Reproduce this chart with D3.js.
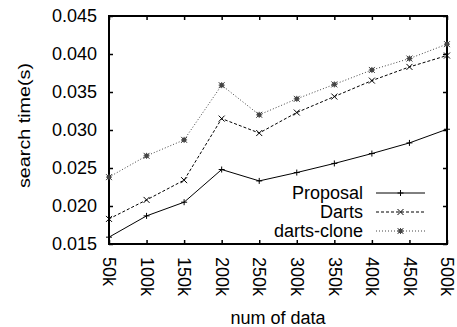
<!DOCTYPE html>
<html>
<head>
<meta charset="utf-8">
<script src="https://cdn.jsdelivr.net/npm/d3@7/dist/d3.min.js"></script>
<style>
  body { margin: 0; background: #fff; }
  text { font-family: "Liberation Sans", Arial, sans-serif; fill: #000; }
</style>
</head>
<body>
<svg id="chart" width="457" height="327"></svg>
<script>
// data
const categories = ["50k", "100k", "150k", "200k", "250k", "300k", "350k", "400k", "450k", "500k"];
const proposal = [0.0159, 0.0187, 0.0205, 0.0248, 0.0233, 0.0244, 0.0256, 0.0269, 0.0283, 0.0301];
const darts = [0.0183, 0.0208, 0.0234, 0.0315, 0.0296, 0.0323, 0.0344, 0.0365, 0.0383, 0.0398];
const dartsClone = [0.0238, 0.0266, 0.0287, 0.0359, 0.0320, 0.0341, 0.0360, 0.0379, 0.0394, 0.0413];
const yTicks = [0.015, 0.020, 0.025, 0.030, 0.035, 0.040, 0.045];

const series = [
    { name: "Proposal", values: proposal, dash: null, color: "#000", marker: "plus" },
    { name: "Darts", values: darts, dash: "3,2", color: "#000", marker: "cross" },
    { name: "darts-clone", values: dartsClone, dash: "1,2", color: "#444", marker: "star" }
];

const svg = d3.select("#chart");
const margin = { left: 109, top: 16, right: 10, bottom: 83 };
const width = 457 - margin.left - margin.right,
    height = 327 - margin.top - margin.bottom;
const fs = 18;

const g = svg.append("g").attr("transform", `translate(${margin.left},${margin.top})`);

const x = d3.scalePoint().domain(categories).range([0, width]);
const y = d3.scaleLinear().domain([0.015, 0.045]).range([height, 0]);

// axes, ticks pointing inward and mirrored
const xBottom = g.append("g").attr("transform", `translate(0,${height})`)
    .call(d3.axisBottom(x).tickSizeInner(-4).tickSizeOuter(0));
xBottom.selectAll("text")
    .attr("transform", "rotate(90)")
    .attr("x", 13).attr("y", 0).attr("dy", "0.35em")
    .style("text-anchor", "start")
    .attr("font-size", fs);

g.append("g")
    .call(d3.axisTop(x).tickSizeInner(-4).tickSizeOuter(0).tickFormat(""));

const yLeft = g.append("g")
    .call(d3.axisLeft(y).tickValues(yTicks).tickFormat(d3.format(".3f")).tickSizeInner(-4).tickSizeOuter(0).tickPadding(12));
yLeft.selectAll("text").attr("font-size", fs);

g.append("g").attr("transform", `translate(${width},0)`)
    .call(d3.axisRight(y).tickValues(yTicks).tickSizeInner(-4).tickSizeOuter(0).tickFormat(""));

g.selectAll(".domain").remove();
g.selectAll(".tick line").attr("stroke", "#000").attr("stroke-width", 1.5);

g.append("rect")
    .attr("width", width).attr("height", height)
    .attr("fill", "none").attr("stroke", "#000").attr("stroke-width", 2);

// markers
function drawMarker(sel, type, color) {
    const s = 3;
    if (type === "plus") {
        sel.append("path").attr("d", `M${-s},0H${s}M0,${-s}V${s}`);
    } else if (type === "cross") {
        sel.append("path").attr("d", `M${-s},${-s}L${s},${s}M${-s},${s}L${s},${-s}`);
    } else {
        sel.append("path").attr("d", `M${-s},0H${s}M0,${-s}V${s}M${-s},${-s}L${s},${s}M${-s},${s}L${s},${-s}`);
        sel.append("rect").attr("x", -2).attr("y", -2).attr("width", 4).attr("height", 4).attr("fill", color);
    }
    sel.selectAll("path").attr("stroke", color).attr("stroke-width", 1).attr("fill", "none");
}

const line = d3.line().x((d, i) => x(categories[i])).y(d => y(d));

series.forEach(s => {
    g.append("path")
        .datum(s.values)
        .attr("d", line)
        .attr("fill", "none")
        .attr("stroke", s.color)
        .attr("stroke-width", 1)
        .attr("stroke-dasharray", s.dash);
    g.selectAll(null)
        .data(s.values)
        .enter().append("g")
        .attr("transform", (d, i) => `translate(${x(categories[i])},${y(d)})`)
        .each(function() { drawMarker(d3.select(this), s.marker, s.color); });
});

// legend
const legend = svg.append("g").attr("transform", "translate(363,193)");
series.forEach((s, i) => {
    const row = legend.append("g").attr("transform", `translate(0,${i * 19})`);
    row.append("text")
        .attr("text-anchor", "end").attr("dy", "0.35em")
        .attr("font-size", fs)
        .text(s.name);
    row.append("line")
        .attr("x1", 13).attr("x2", 62)
        .attr("stroke", s.color).attr("stroke-width", 1)
        .attr("stroke-dasharray", s.dash);
    row.append("g").attr("transform", "translate(37.5,0)")
        .call(sel => drawMarker(sel, s.marker, s.color));
});

// axis titles
svg.append("text")
    .attr("x", margin.left + width / 2).attr("y", 324)
    .attr("text-anchor", "middle").attr("font-size", fs)
    .text("num of data");

svg.append("text")
    .attr("transform", "translate(30,125.5) rotate(-90)")
    .attr("text-anchor", "middle").attr("font-size", 17)
    .attr("textLength", 125).attr("lengthAdjust", "spacingAndGlyphs")
    .text("search time(s)");
</script>
</body>
</html>
